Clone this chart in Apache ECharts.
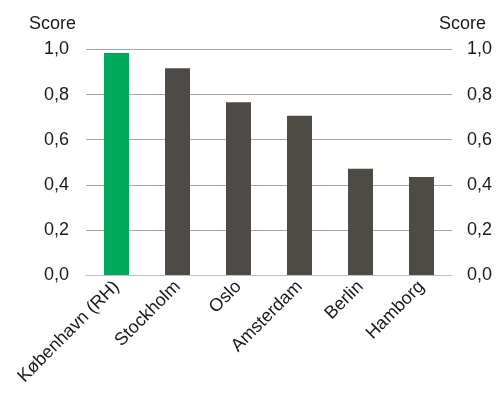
<!DOCTYPE html>
<html><head><meta charset="utf-8">
<script src="https://cdn.jsdelivr.net/npm/echarts@6/dist/echarts.min.js"></script>
<style>html,body{margin:0;padding:0;background:#fff}#c{width:497px;height:394px}</style>
</head><body><div id="c"></div>
<script>
const categories = ['København (RH)', 'Stockholm', 'Oslo', 'Amsterdam', 'Berlin', 'Hamborg'];
const scores = [0.984, 0.917, 0.766, 0.706, 0.471, 0.435];
const barColors = ['#00A85A', '#4E4A46', '#4E4A46', '#4E4A46', '#4E4A46', '#4E4A46'];
const axisTitle = 'Score';

const font = 'Liberation Sans, Arial, sans-serif';
const fs = 18;
const fmt = v => v.toFixed(1).replace('.', ',');
const chart = echarts.init(document.getElementById('c'));
chart.setOption({
  animation: false,
  grid: { left: 86, right: 45, top: 49.5, bottom: 119, containLabel: false },
  graphic: [
    { type: 'text', left: 29, top: 15, style: { text: axisTitle, font: fs + 'px ' + font, fill: '#1a1a1a' } },
    { type: 'text', left: 439, top: 15, style: { text: axisTitle, font: fs + 'px ' + font, fill: '#1a1a1a' } }
  ],
  xAxis: {
    type: 'category', data: categories,
    axisLine: { lineStyle: { color: '#BFBFBF', width: 1 } },
    axisTick: { show: false },
    axisLabel: { rotate: 45, interval: 0, fontSize: fs, fontFamily: font, color: '#1a1a1a', margin: 9 }
  },
  yAxis: [
    { type: 'value', min: 0, max: 1, interval: 0.2, position: 'left',
      axisLine: { show: false }, axisTick: { show: false },
      axisLabel: { formatter: fmt, fontSize: fs, fontFamily: font, color: '#1a1a1a', margin: 17 },
      splitLine: { lineStyle: { color: '#A6A6A6', width: 1 } } },
    { type: 'value', min: 0, max: 1, interval: 0.2, position: 'right',
      axisLine: { show: false }, axisTick: { show: false },
      axisLabel: { formatter: fmt, fontSize: fs, fontFamily: font, color: '#1a1a1a', margin: 15 },
      splitLine: { show: false } }
  ],
  series: [{
    type: 'bar', yAxisIndex: 0, barWidth: '41%',
    data: scores.map((v, i) => ({ value: v, itemStyle: { color: barColors[i] } }))
  }]
});
</script></body></html>
